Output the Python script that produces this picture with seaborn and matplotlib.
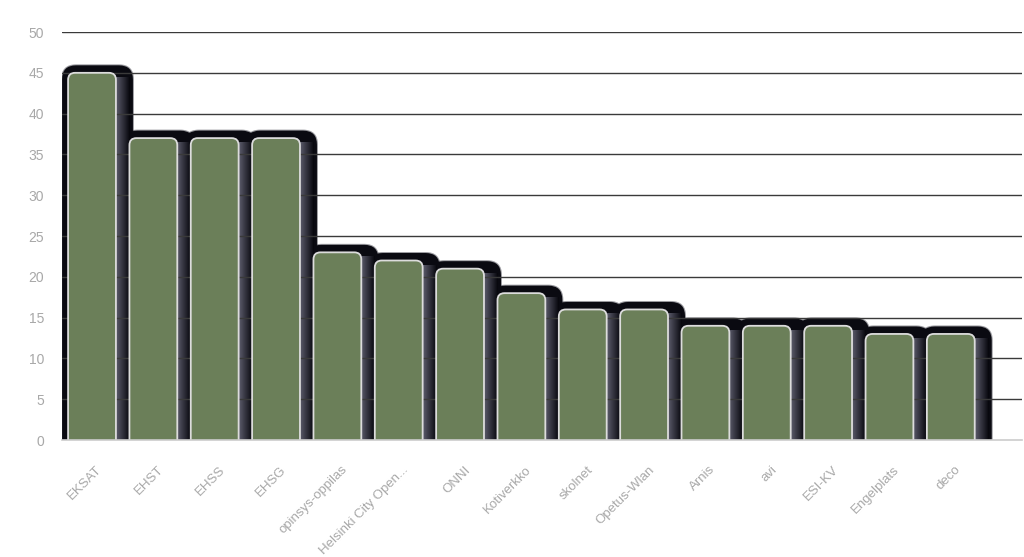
import matplotlib
matplotlib.use("Agg")
import matplotlib.pyplot as plt
import seaborn as sns
import pandas as pd
import numpy as np
from matplotlib.patches import FancyBboxPatch, Rectangle
from matplotlib.colors import to_rgb
from matplotlib.transforms import ScaledTranslation, IdentityTransform

categories = ["EKSAT", "EHST", "EHSS", "EHSG", "opinsys-oppilas",
              "Helsinki City Open...", "ONNI", "Kotiverkko", "skolnet",
              "Opetus-Wlan", "Arnis", "avi", "ESI-KV", "Engelplats", "deco"]
values = [45, 37, 37, 37, 23, 22, 21, 18, 16, 16, 14, 14, 14, 13, 13]
yticks = [0, 5, 10, 15, 20, 25, 30, 35, 40, 45, 50]

BAR_COLOR = "#6b7f59"
EDGE_COLOR = "#dcdcdc"
TEXT_COLOR = "#a8a8a8"

sns.set_theme(style="white")
plt.rcParams["font.family"] = ["Liberation Sans", "DejaVu Sans"]

fig = plt.figure(figsize=(10.24, 5.57), dpi=100)
ax = fig.add_axes([0.0605, 0.21, 0.9375, 0.7325])

df = pd.DataFrame({"network": categories, "count": values})
sns.barplot(data=df, x="network", y="count", color=BAR_COLOR, width=0.78,
            ax=ax, zorder=3, saturation=1)

xmin, xmax = -0.49, 15.16
ax.set_xlim(xmin, xmax)
ax.set_ylim(0, 50)
fig.canvas.draw()

c_light = np.array(to_rgb("#585868"))
c_dark = np.array(to_rgb("#08080e"))
ident = IdentityTransform()

bars = list(ax.patches)
for p in bars:
    x0, w, h = p.get_x(), p.get_width(), p.get_height()
    p.set_visible(False)
    (px0, py0), (px1, py1) = ax.transData.transform([(x0, 0), (x0 + w, h)])
    pw = px1 - px0
    ph = py1 - py0
    below = 24  # extend below axis, clipped away
    # soft edge of the shadow
    soft = FancyBboxPatch((px0 - 7, py0 - below), pw + 25, ph + below + 8.5,
                          boxstyle="round,pad=0,rounding_size=15",
                          fc="#3a3a44", ec="none", alpha=0.5, zorder=1.05,
                          transform=ident)
    ax.add_patch(soft)
    # dark shadow body
    sh = FancyBboxPatch((px0 - 6, py0 - below), pw + 23, ph + below + 7.5,
                        boxstyle="round,pad=0,rounding_size=14",
                        fc="#0a0a11", ec="none", zorder=1.1,
                        transform=ident)
    ax.add_patch(sh)
    # lighter gradient just right of the bar
    n = 14
    for k in range(n):
        t = k / (n - 1)
        col = c_light * (1 - t) + c_dark * t
        ax.add_patch(Rectangle((px1 + k, py0), 1.05, ph - 4,
                               fc=col, ec="none", zorder=1.2, transform=ident))
    # the bar itself
    bar = FancyBboxPatch((px0, py0 - below), pw, ph + below,
                         boxstyle="round,pad=0,rounding_size=7",
                         fc=BAR_COLOR, ec=EDGE_COLOR, lw=1.3, zorder=3,
                         transform=ident)
    ax.add_patch(bar)

# gridlines between shadow and bars
for t in yticks[1:]:
    ax.axhline(t, color="#3a3a3a", lw=1.0, zorder=2)

ax.set_yticks(yticks)
ax.set_xlabel("")
ax.set_ylabel("")
ax.grid(False)
for s in ["top", "right", "left"]:
    ax.spines[s].set_visible(False)
ax.spines["bottom"].set_color("#cccccc")
ax.spines["bottom"].set_linewidth(1.2)
ax.spines["bottom"].set_zorder(4)

ax.tick_params(axis="y", length=0, pad=13, labelsize=10, labelcolor=TEXT_COLOR)
ax.tick_params(axis="x", length=0, pad=17, labelsize=9.5, labelcolor=TEXT_COLOR)
ax.set_xticks(range(len(categories)))
ax.set_xticklabels(categories, rotation=45, ha="right", rotation_mode="anchor")
offset = ScaledTranslation(4 / 100, 0, fig.dpi_scale_trans)
for lbl in ax.get_xticklabels():
    lbl.set_transform(lbl.get_transform() + offset)

fig.savefig("out.png", dpi=100, facecolor="white")
